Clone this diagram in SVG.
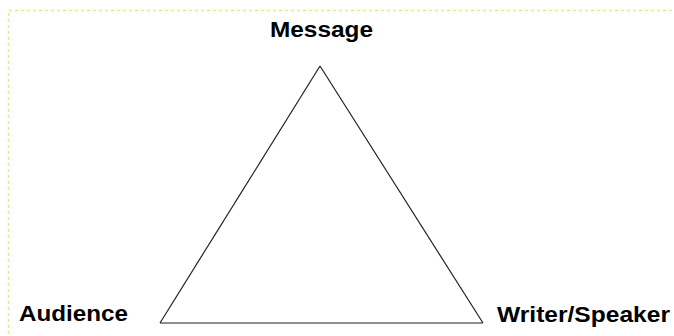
<svg xmlns="http://www.w3.org/2000/svg" width="674" height="336" viewBox="0 0 674 336">
<style>
.lbl{font-family:"Liberation Sans",Arial,sans-serif;font-weight:bold;font-size:21.5px;fill:#000}
.edge{fill:none;stroke:#222;stroke-width:1.2}
.frame{fill:none;stroke:#f5e86a;stroke-width:1.5;stroke-dasharray:3,3}
</style>
<rect width="674" height="336" fill="#fff"/>
<path class="frame" d="M8.5,340 V10.5 H680"/>
<g id="connectors">
<path class="edge" d="M320,66 L160,323"/>
<path class="edge" d="M320,66 L483,323"/>
<path class="edge" d="M160,323 L483,323"/>
</g>
<g id="node-message"><text class="lbl" x="270" y="37" textLength="103" lengthAdjust="spacingAndGlyphs">Message</text></g>
<g id="node-audience"><text class="lbl" x="19" y="321" textLength="109" lengthAdjust="spacingAndGlyphs">Audience</text></g>
<g id="node-writer"><text class="lbl" x="497" y="322" textLength="173" lengthAdjust="spacingAndGlyphs">Writer/Speaker</text></g>
</svg>
